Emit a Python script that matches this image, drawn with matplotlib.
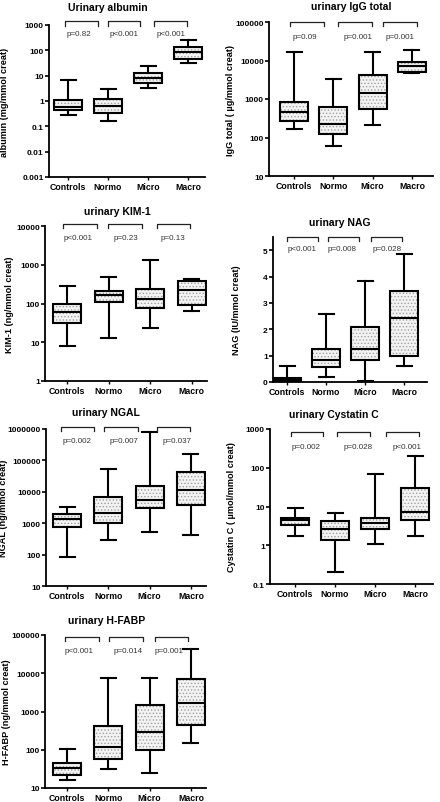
import matplotlib
matplotlib.use("Agg")
from matplotlib import pyplot as plt
from matplotlib import ticker
import matplotlib.transforms as mtransforms

plt.rcParams['font.family'] = ['Liberation Sans', 'DejaVu Sans']
plt.rcParams['hatch.linewidth'] = 0.6

cats = ["Controls", "Normo", "Micro", "Macro"]

# urinary albumin
alb_lo = [0.29, 0.16, 3.3, 31]
alb_q1 = [0.43, 0.35, 5.0, 46]
alb_med = [0.57, 0.66, 8.1, 89]
alb_q3 = [1.05, 1.15, 13, 132]
alb_hi = [7.0, 3.0, 24, 250]
alb_p = ["p=0.82", "p<0.001", "p<0.001"]

# urinary IgG total
igg_lo = [162, 60, 208, 4800]
igg_q1 = [270, 126, 560, 5000]
igg_med = [460, 220, 1450, 7200]
igg_q3 = [830, 630, 4100, 9100]
igg_hi = [17000, 3400, 17000, 18600]
igg_p = ["p=0.09", "p=0.001", "p=0.001"]

# urinary KIM-1
kim_lo = [8.1, 13, 23, 65]
kim_q1 = [31, 108, 76, 89]
kim_med = [62, 162, 130, 218]
kim_q3 = [100, 210, 230, 390]
kim_hi = [280, 490, 1300, 440]
kim_p = ["p<0.001", "p=0.23", "p=0.13"]

# urinary NAG
nag_lo = [0, 0.18, 0.04, 0.61]
nag_q1 = [0.02, 0.56, 0.84, 0.99]
nag_med = [0.07, 0.85, 1.25, 2.44]
nag_q3 = [0.14, 1.27, 2.09, 3.44]
nag_hi = [0.59, 2.59, 3.84, 4.86]
nag_p = ["p<0.001", "p=0.008", "p=0.028"]

# urinary NGAL
ngal_lo = [85, 290, 540, 420]
ngal_q1 = [730, 1050, 3150, 3700]
ngal_med = [1350, 2040, 5500, 11600]
ngal_q3 = [2000, 6600, 14800, 43000]
ngal_hi = [3400, 52000, 780000, 163000]
ngal_p = ["p=0.002", "p=0.007", "p=0.037"]

# urinary Cystatin C
cys_lo = [1.75, 0.2, 1.1, 1.7]
cys_q1 = [3.3, 1.4, 2.65, 4.4]
cys_med = [4.4, 2.6, 3.7, 7.1]
cys_q3 = [5.2, 4.3, 5.2, 30]
cys_hi = [9.3, 6.6, 69, 200]
cys_p = ["p=0.002", "p=0.028", "p<0.001"]

# urinary H-FABP
fabp_lo = [16, 31, 24, 151]
fabp_q1 = [22, 59, 100, 450]
fabp_med = [34, 117, 295, 1650]
fabp_q3 = [46, 425, 1450, 7100]
fabp_hi = [105, 7300, 7300, 42500]
fabp_p = ["p<0.001", "p=0.014", "p=0.001"]

W, H = 440, 803

panels = [
    dict(title="Urinary albumin", ylabel="albumin (mg/mmol creat)",
         stats=(alb_lo, alb_q1, alb_med, alb_q3, alb_hi), p=alb_p,
         ylim=(0.001, 1000), ticks=[0.001, 0.01, 0.1, 1, 10, 100, 1000], log=True,
         box=(49, 205, 26, 178), c0=68, sp=40, title_xy=(108, 8), ylab_x=9,
         br=[(-0.08, 0.75), (1.0, 1.8), (2.15, 2.98)], tx=[0.28, 1.4, 2.58],
         by=(1.026, 0.993, 0.947)),
    dict(title="urinary IgG total", ylabel="IgG total ( \u00b5g/mmol creat)",
         stats=(igg_lo, igg_q1, igg_med, igg_q3, igg_hi), p=igg_p,
         ylim=(10, 100000), ticks=[10, 100, 1000, 10000, 100000], log=True,
         box=(269, 433, 23, 177), c0=294, sp=39.3, title_xy=(351, 7), ylab_x=235,
         br=[(-0.1, 0.76), (1.12, 1.98), (2.27, 3.13)], tx=[0.28, 1.63, 2.70],
         by=(1.0, 0.974, 0.909)),
    dict(title="urinary KIM-1", ylabel="KIM-1 (ng/mmol creat)",
         stats=(kim_lo, kim_q1, kim_med, kim_q3, kim_hi), p=kim_p,
         ylim=(1, 10000), ticks=[1, 10, 100, 1000, 10000], log=True,
         box=(45, 207, 227, 382), c0=67, sp=41.5, title_xy=(117, 212), ylab_x=14,
         br=[(-0.1, 0.72), (0.99, 1.81), (2.17, 2.96)], tx=[0.27, 1.42, 2.55],
         by=(1.013, 0.987, 0.923)),
    dict(title="urinary NAG", ylabel="NAG (IU/mmol creat)",
         stats=(nag_lo, nag_q1, nag_med, nag_q3, nag_hi), p=nag_p,
         ylim=(0, 5.5), ticks=[0, 1, 2, 3, 4, 5], log=False,
         box=(273, 427, 238, 383), c0=287, sp=39, title_xy=(340, 223), ylab_x=241,
         br=[(0.0, 0.8), (1.05, 1.85), (2.15, 2.95)], tx=[0.38, 1.41, 2.56],
         by=(1.0, 0.972, 0.924)),
    dict(title="urinary NGAL", ylabel="NGAL (ng/mmol creat)",
         stats=(ngal_lo, ngal_q1, ngal_med, ngal_q3, ngal_hi), p=ngal_p,
         ylim=(10, 1000000), ticks=[10, 100, 1000, 10000, 100000, 1000000], log=True,
         box=(46, 206, 430, 587), c0=67, sp=41.3, title_xy=(106, 413), ylab_x=8,
         br=[(-0.15, 0.65), (0.90, 1.72), (2.19, 2.99)], tx=[0.24, 1.38, 2.66],
         by=(1.013, 0.987, 0.924)),
    dict(title="urinary Cystatin C", ylabel="Cystatin C ( \u00b5mol/mmol creat)",
         stats=(cys_lo, cys_q1, cys_med, cys_q3, cys_hi), p=cys_p,
         ylim=(0.1, 1000), ticks=[0.1, 1, 10, 100, 1000], log=True,
         box=(270, 433, 430, 585), c0=295, sp=40, title_xy=(334, 415), ylab_x=236,
         br=[(-0.1, 0.7), (1.05, 1.87), (2.28, 3.1)], tx=[0.28, 1.58, 2.8],
         by=(0.981, 0.955, 0.884)),
    dict(title="urinary H-FABP", ylabel="H-FABP (ng/mmol creat)",
         stats=(fabp_lo, fabp_q1, fabp_med, fabp_q3, fabp_hi), p=fabp_p,
         ylim=(10, 100000), ticks=[10, 100, 1000, 10000, 100000], log=True,
         box=(45, 206, 636, 789), c0=67, sp=41.3, title_xy=(107, 621), ylab_x=11,
         br=[(-0.05, 0.77), (1.02, 1.84), (2.13, 2.93)], tx=[0.29, 1.48, 2.47],
         by=(0.987, 0.961, 0.896)),
]


def fmt(v, pos=None):
    return str(int(v)) if v >= 1 else f"{v:g}"


fig = plt.figure(figsize=(W / 100, H / 100), dpi=100)

for pn in panels:
    l, r, t, b = pn["box"]
    ax = fig.add_axes([l / W, 1 - b / H, (r - l) / W, (b - t) / H])
    lo, q1, med, q3, hi = pn["stats"]
    stats = [dict(label=c, whislo=lo[i], q1=q1[i], med=med[i], q3=q3[i], whishi=hi[i], fliers=[])
             for i, c in enumerate(cats)]
    pos = list(range(len(cats)))
    wd = 28 / pn["sp"]
    cw = 15 / pn["sp"]
    if pn["log"]:
        ax.set_yscale("log")
    # stippled fill
    ax.bxp(stats, positions=pos, widths=wd, patch_artist=True, showcaps=False,
           boxprops=dict(facecolor="#f3f3f3", edgecolor="#a0a0a0", hatch=".....", linewidth=0),
           whiskerprops=dict(linewidth=0), medianprops=dict(linewidth=0))
    # outlines
    ax.bxp(stats, positions=pos, widths=wd, capwidths=cw, patch_artist=True,
           boxprops=dict(facecolor="none", edgecolor="black", linewidth=1.5),
           whiskerprops=dict(color="black", linewidth=1.5),
           capprops=dict(color="black", linewidth=1.5),
           medianprops=dict(color="black", linewidth=1.5))

    ax.set_xlim((l - pn["c0"]) / pn["sp"], (r - pn["c0"]) / pn["sp"])
    ax.set_ylim(*pn["ylim"])
    ax.yaxis.set_major_locator(ticker.FixedLocator(pn["ticks"]))
    ax.yaxis.set_minor_locator(ticker.NullLocator())
    ax.yaxis.set_major_formatter(ticker.FuncFormatter(fmt))
    ax.set_xticks(pos)
    ax.set_xticklabels(cats)
    for sp in ["top", "right"]:
        ax.spines[sp].set_visible(False)
    for sp in ["left", "bottom"]:
        ax.spines[sp].set_linewidth(1.3)
    ax.tick_params(axis="y", length=3, width=1.2, pad=0.8, labelsize=6)
    ax.tick_params(axis="x", length=2, width=1.0, pad=1.5, labelsize=6.3)
    for lab in ax.get_xticklabels() + ax.get_yticklabels():
        lab.set_fontweight("bold")

    ax.set_ylabel(pn["ylabel"], fontsize=6.6, fontweight="bold")
    ax.yaxis.set_label_coords((pn["ylab_x"] - l) / (r - l), 0.5)

    # significance brackets
    trans = mtransforms.blended_transform_factory(ax.transData, ax.transAxes)
    ytop, yleg, ytxt = pn["by"]
    for (x0, x1), xt, ptxt in zip(pn["br"], pn["tx"], pn["p"]):
        ax.plot([x0, x0, x1, x1], [yleg, ytop, ytop, yleg], color="#222222",
                linewidth=0.9, transform=trans, clip_on=False)
        ax.text(xt, ytxt, ptxt, transform=trans, ha="center", va="center",
                fontsize=5.8, color="#333333")

    fig.text(pn["title_xy"][0] / W, 1 - pn["title_xy"][1] / H, pn["title"],
             ha="center", va="center", fontsize=7.5, fontweight="bold")

fig.savefig("out.png", dpi=100)
